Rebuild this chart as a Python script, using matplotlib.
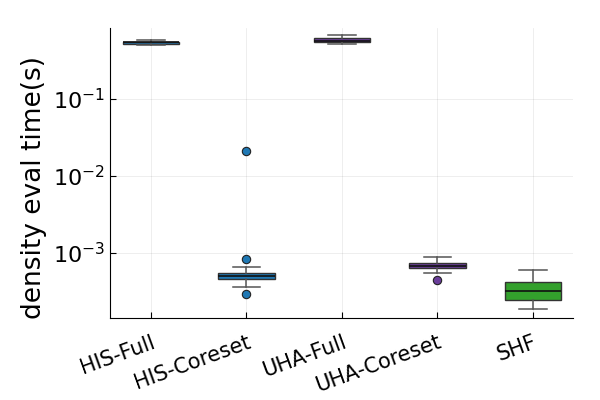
import matplotlib
matplotlib.use('Agg')
import matplotlib.pyplot as plt

# values (seconds)
methods = ['HIS-Full', 'HIS-Coreset', 'UHA-Full', 'UHA-Coreset', 'SHF']
colors = ['#1f78b4', '#1f78b4', '#6a3d9a', '#6a3d9a', '#33a02c']
whislo = [0.503, 3.65e-4, 0.513, 5.5e-4, 1.87e-4]
q1 = [0.518, 4.59e-4, 0.545, 6.32e-4, 2.45e-4]
med = [0.542, 5.07e-4, 0.571, 6.84e-4, 3.2e-4]
q3 = [0.558, 5.55e-4, 0.614, 7.41e-4, 4.2e-4]
whishi = [0.578, 6.64e-4, 0.671, 8.95e-4, 5.96e-4]
fliers = [[], [0.0211, 8.36e-4, 2.96e-4], [], [4.42e-4], []]

stats = []
for i, name in enumerate(methods):
    stats.append(dict(label=name, whislo=whislo[i], q1=q1[i], med=med[i],
                      q3=q3[i], whishi=whishi[i], fliers=fliers[i]))

plt.rcParams['font.family'] = 'DejaVu Sans'
fig = plt.figure(figsize=(6, 4), dpi=100)
ax = fig.add_axes([0.183, 0.205, 0.772, 0.725])

pos = list(range(1, len(methods) + 1))
bp = ax.bxp(stats, positions=pos, widths=0.59, patch_artist=True,
            showfliers=True, whiskerprops=dict(color='#555555', linewidth=1.1),
            capprops=dict(color='#555555', linewidth=1.1),
            medianprops=dict(color='#111111', linewidth=1.2),
            boxprops=dict(edgecolor='#333333', linewidth=1.0),
            capwidths=0.29)
for i, box in enumerate(bp['boxes']):
    box.set_facecolor(colors[i])
for i, fl in enumerate(bp['fliers']):
    fl.set_marker('o')
    fl.set_markerfacecolor(colors[i])
    fl.set_markeredgecolor('#222222')
    fl.set_markersize(6)
    fl.set_markeredgewidth(0.8)

ax.set_yscale('log')
ax.set_ylim(1.43e-4, 0.836)
ax.set_xlim(0.57, 5.42)
ax.set_yticks([1e-3, 1e-2, 1e-1])
ax.set_yticklabels([r'$10^{-3}$', r'$10^{-2}$', r'$10^{-1}$'], fontsize=16)
ax.minorticks_off()
ax.set_xticks(pos)
ax.set_xticklabels(methods, rotation=20, ha='right', rotation_mode='anchor', fontsize=15)
ax.set_ylabel('density eval time(s)', fontsize=19)
ax.yaxis.set_label_coords(-0.135, 0.45)

ax.grid(True, color='#000000', alpha=0.08, linewidth=0.6)
ax.set_axisbelow(True)
for s in ['top', 'right']:
    ax.spines[s].set_visible(False)
ax.tick_params(direction='in', length=4, width=0.8)
ax.tick_params(axis='x', pad=10)

plt.savefig('out.png', dpi=100)
